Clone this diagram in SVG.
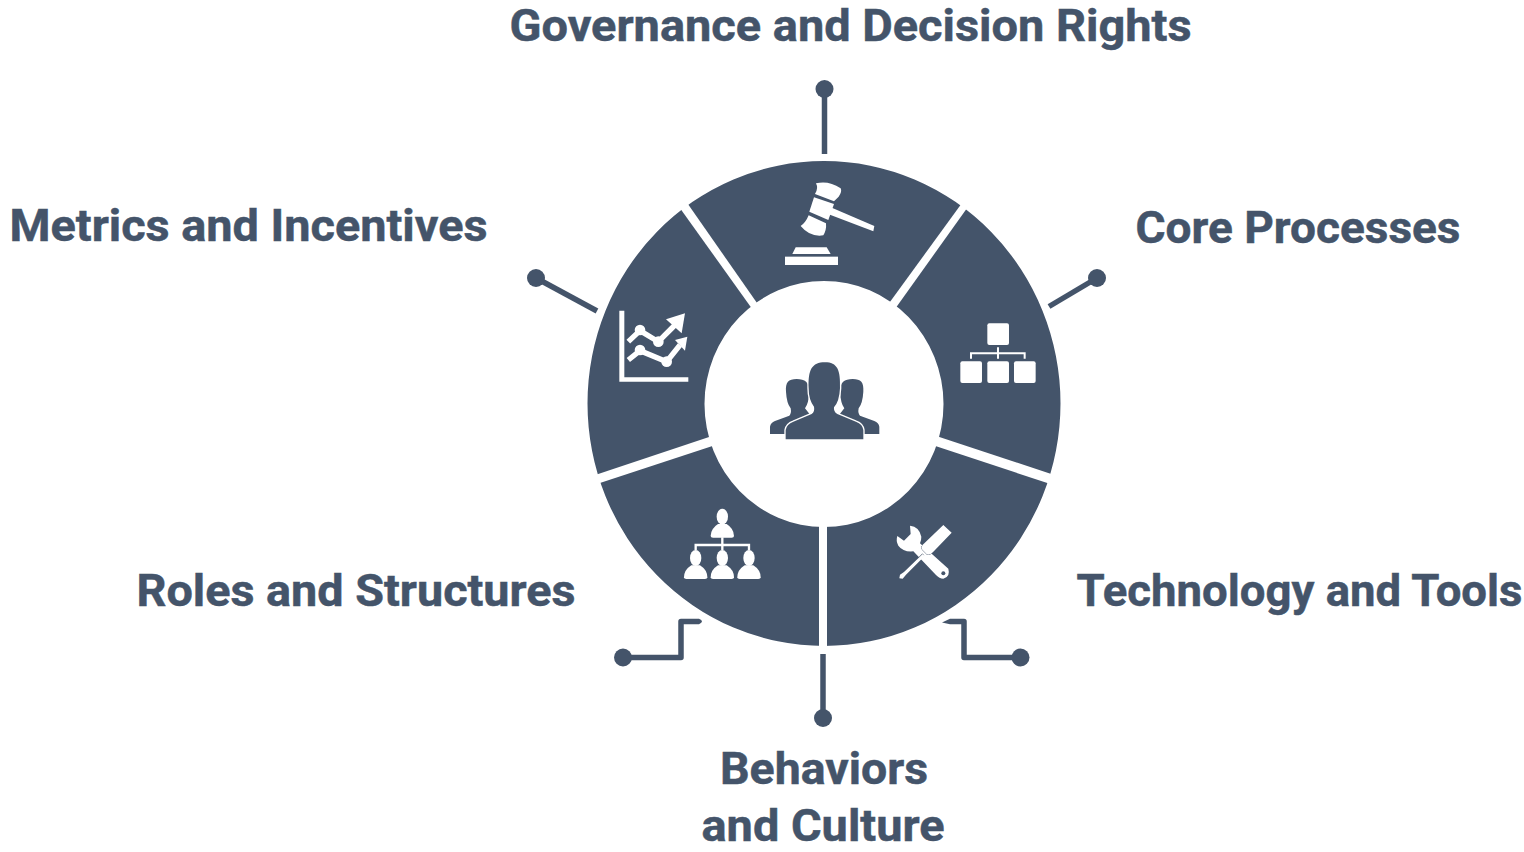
<svg xmlns="http://www.w3.org/2000/svg" width="1524" height="852" viewBox="0 0 1524 852">
<style>
.t{font-family:Roboto,"Liberation Sans",sans-serif;font-weight:700;font-size:44px;fill:#44546A;stroke:#44546A;stroke-width:.5}
.s{fill:#44546A}
.w{fill:#fff}
.c{fill:none;stroke:#44546A;stroke-width:5.5}
.d{fill:#44546A}
.l{fill:none;stroke:#fff}
</style>
<defs>
<clipPath id="ring"><path clip-rule="evenodd" d="M587.5,403.5A236.5,242.5 0 1 1 1060.5,403.5A236.5,242.5 0 1 1 587.5,403.5ZM704.5,404A119.5,123 0 1 0 943.5,404A119.5,123 0 1 0 704.5,404Z"/></clipPath>
<g id="person"><ellipse cx="0" cy="0" rx="17" ry="24"/><path d="M-35,58Q-35,36 -13,22L13,22Q35,36 35,58Q35,63 28,63H-28Q-35,63 -35,58Z"/></g>
<path id="sidep" d="M60,252V230Q62,218 75,213L118,197Q125,190 122,175Q110,160 108,125C106,97 115,87 140,87C165,87 178,97 178,125Q176,160 165,175L185,200L110,252Z"/>
</defs>
<rect width="1524" height="852" fill="#fff"/>
<g id="connectors">
<path class="c" d="M824.5,89V154"/><circle class="d" cx="824.5" cy="89" r="9"/>
<path class="c" d="M1097,278L1049,306.5"/><circle class="d" cx="1097" cy="278" r="9"/>
<path class="c" d="M536,278L597,311"/><circle class="d" cx="536" cy="278" r="9"/>
<path class="c" d="M823,654V718"/><circle class="d" cx="823" cy="718" r="9"/>
<path class="c" stroke-linejoin="round" d="M623,657.5H681V621.5H699"/><path class="d" d="M699,618.8Q705,621.5 699,624.3Z"/><circle class="d" cx="623" cy="657.5" r="9"/>
<path class="c" stroke-linejoin="round" d="M1020.5,657.5H964V621.5H950"/><path class="d" d="M950,618.8L942,622.5L950,624.3Z"/><circle class="d" cx="1020.5" cy="657.5" r="9"/>
</g>
<g id="seg-governance">
<path class="s" clip-path="url(#ring)" d="M790.5,351L656.5,159H994L855,350Z"/>
<g class="w" transform="translate(760,160) scale(.3333)">
<path d="M168,70Q205,60 242,85Q247,95 236,110L222,124L165,102Q176,85 168,70Z"/>
<path d="M162,112L222,132L205,180L148,155Z"/>
<path d="M146,166L198,190Q200,210 190,226Q150,232 122,198Q137,188 146,166Z"/>
<path d="M212,142L343,198L340,214L204,162Z"/>
<path d="M107,262H200L212,282H97Z"/><rect x="75" y="290" width="159" height="25"/>
</g>
</g>
<g id="seg-core">
<path class="s" clip-path="url(#ring)" d="M870,344L1000,162H1100V490L900,424Z"/>
<g transform="translate(940,310) scale(.3333)">
<g class="w"><rect x="142" y="40" width="65" height="65" rx="6"/><rect x="61" y="154" width="65" height="65" rx="6"/><rect x="142" y="154" width="65" height="65" rx="6"/><rect x="222" y="154" width="65" height="65" rx="6"/></g>
<path class="l" stroke-width="6" d="M93,146V130H254V146M174,112V146"/>
</g>
</g>
<g id="seg-technology">
<path class="s" clip-path="url(#ring)" d="M827,480L896,433L1100,500.5V660H827Z"/>
<g transform="translate(880,510) scale(.3333)">
<path class="w" d="M90,47Q118,50 124,80Q124,92 120,100L205,176Q212,200 190,206Q178,206 168,195L100,124Q70,127 55,107Q47,92 52,78L72,92L92,72Z"/>
<circle class="s" cx="190" cy="190" r="6"/>
<path class="w" stroke="#44546A" stroke-width="3" paint-order="stroke" d="M190,45L215,68L160,125Q150,137 140,132L126,118Q121,110 133,100Z"/>
<path fill="none" stroke="#44546A" stroke-width="8" d="M130,133L80,183"/>
<path class="w" d="M128,132L134,138L78,194L68,206L58,205L60,194L72,186Z"/>
</g>
</g>
<g id="seg-roles">
<path class="s" clip-path="url(#ring)" d="M819,480L752,433L550,499.5V660H819Z"/>
<g class="w" transform="translate(670,500) scale(.3333)">
<use href="#person" x="157" y="50"/><use href="#person" x="77" y="174"/><use href="#person" x="157" y="174"/><use href="#person" x="237" y="174"/>
<path class="l" stroke-width="7" d="M157,112V135M77,150V135H237V150M157,135V150"/>
</g>
</g>
<g id="seg-metrics">
<path class="s" clip-path="url(#ring)" d="M778,345L648,163.5H550V490L748,424Z"/>
<g transform="translate(600,300) scale(.3333)">
<path class="w" d="M58,32H73V232H265V245H58Z"/>
<path class="l" stroke-width="16" d="M85,125L120,92L175,125L225,75M85,180L120,152L200,185L240,135"/>
<g class="w"><path d="M255,40L245,100L198,58Z"/><path d="M262,110L255,152L225,120Z"/>
<circle cx="120" cy="90" r="16"/><circle cx="175" cy="125" r="16"/><circle cx="120" cy="150" r="16"/><circle cx="200" cy="185" r="16"/></g>
</g>
</g>
<g id="center-people" transform="translate(750,350) scale(.3333)">
<use href="#sidep" class="s"/><use href="#sidep" class="s" transform="translate(448,0) scale(-1,1)"/>
<path class="s" stroke="#fff" stroke-width="8" paint-order="stroke" d="M107,268V240Q110,222 130,215L185,192Q195,185 192,170Q176,150 176,115C174,60 185,37 225,37C262,37 272,60 270,115Q268,155 252,172Q250,185 262,192L318,215Q338,222 340,240V268Z"/>
</g>
<g id="labels">
<text class="t" x="509.5" y="41" textLength="682" lengthAdjust="spacingAndGlyphs">Governance and Decision Rights</text>
<text class="t" x="9.5" y="241" textLength="478" lengthAdjust="spacingAndGlyphs">Metrics and Incentives</text>
<text class="t" x="1135.5" y="243" textLength="325" lengthAdjust="spacingAndGlyphs">Core Processes</text>
<text class="t" x="136.5" y="606" textLength="439" lengthAdjust="spacingAndGlyphs">Roles and Structures</text>
<text class="t" x="1076.5" y="606" textLength="446" lengthAdjust="spacingAndGlyphs">Technology and Tools</text>
<text class="t" x="720" y="784" textLength="208" lengthAdjust="spacingAndGlyphs">Behaviors</text>
<text class="t" x="701.5" y="841" textLength="243" lengthAdjust="spacingAndGlyphs">and Culture</text>
</g>
</svg>
